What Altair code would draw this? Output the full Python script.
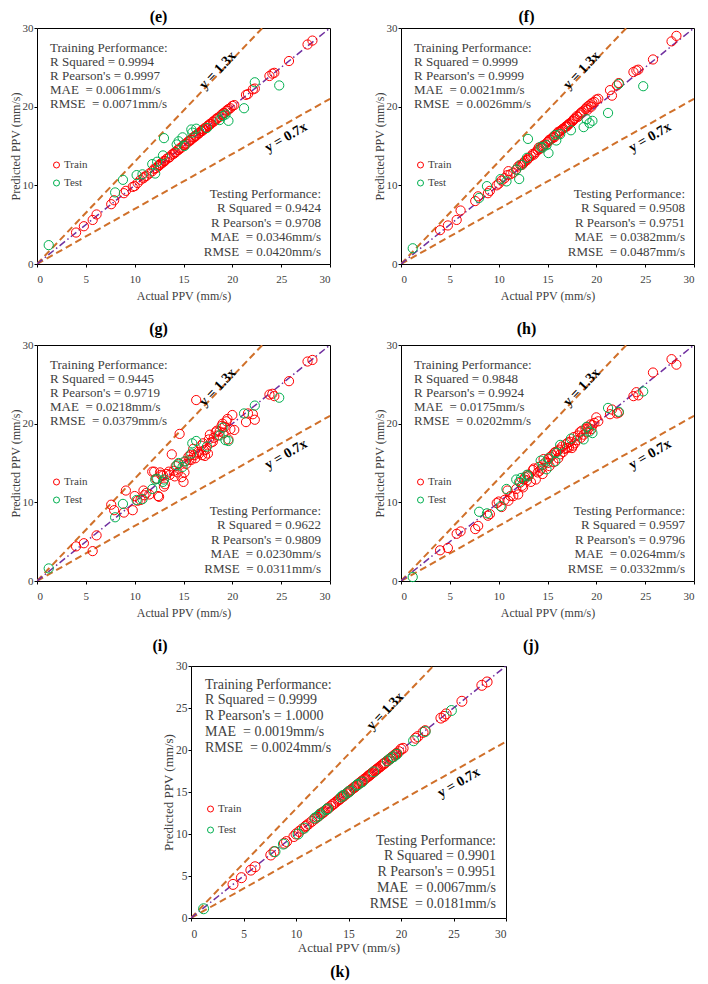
import altair as alt
import pandas as pd

FONT = "Liberation Serif"
RED = "#FF0000"
GREEN = "#00B050"
ORANGE = "#D0702A"
PURPLE = "#7030A0"
GRAY = "#404040"

# ---------------- data ----------------
train_actual = [
    4.0, 4.8, 5.7, 6.1, 7.6, 7.9, 8.9, 9.1, 9.8, 10.0,
    10.3, 10.6, 10.9, 11.0, 11.2, 11.5, 11.8, 12.0, 12.2, 12.4,
    12.5, 12.6, 12.7, 12.9, 13.0, 13.1, 13.3, 13.5, 13.6, 13.8,
    14.0, 14.1, 14.2, 14.4, 14.5, 14.6, 14.8, 15.0, 15.1, 15.2,
    15.3, 15.5, 15.6, 15.7, 15.8, 16.0, 16.1, 16.2, 16.3, 16.5,
    16.6, 16.8, 16.9, 17.0, 17.1, 17.2, 17.3, 17.5, 17.6, 17.7,
    17.8, 18.0, 18.1, 18.3, 18.4, 18.5, 18.7, 18.9, 19.0, 19.1,
    19.2, 19.4, 19.5, 19.6, 19.8, 20.0, 20.2, 21.4, 21.6, 22.1,
    22.3, 23.8, 24.1, 24.3, 25.8, 27.7, 28.2]

test_actual = [1.2, 8.0, 8.8, 10.2, 10.8, 11.8, 12.1, 12.3, 12.9, 13.0,
               14.3, 14.5, 14.9, 15.1, 15.8, 15.9, 16.3, 17.4, 18.7, 19.0,
               19.3, 19.6, 21.2, 22.3, 24.8]

pred_train_e = [
    4.0, 4.8, 5.6, 6.3, 7.6, 8.1, 9.0, 9.3, 9.8, 9.9,
    10.3, 10.7, 10.9, 11.1, 11.2, 11.5, 11.8, 12.1, 12.2, 12.4,
    12.6, 12.6, 12.8, 12.9, 13.1, 13.1, 13.4, 13.5, 13.6, 13.9,
    14.0, 14.2, 14.2, 14.5, 14.5, 14.7, 14.8, 15.1, 15.1, 15.3,
    15.3, 15.6, 15.6, 15.8, 15.8, 16.1, 16.1, 16.3, 16.3, 16.6,
    16.6, 16.9, 16.9, 17.1, 17.1, 17.3, 17.3, 17.6, 17.6, 17.8,
    17.8, 18.1, 18.1, 18.4, 18.4, 18.6, 18.7, 19.0, 19.0, 19.2,
    19.2, 19.5, 19.5, 19.7, 19.8, 20.1, 20.2, 21.5, 21.6, 22.2,
    22.3, 23.9, 24.2, 24.3, 25.8, 27.9, 28.4]
pred_test_e = [2.4, 9.1, 10.7, 11.3, 11.4, 12.7, 11.5, 13.0, 13.8, 16.0,
               15.2, 15.6, 16.1, 15.0, 17.1, 16.7, 17.2, 17.3, 18.3, 18.8,
               19.0, 18.2, 19.8, 23.1, 22.7]

pred_train_f = [
    4.3, 4.9, 5.6, 6.8, 8.0, 8.6, 9.0, 9.3, 10.0, 10.2,
    10.6, 10.9, 11.3, 11.8, 11.4, 11.6, 12.0, 12.4, 12.6, 12.6,
    12.8, 12.9, 13.1, 13.2, 13.4, 13.5, 13.7, 14.0, 13.9, 14.2,
    14.5, 14.8, 14.6, 14.8, 15.0, 15.1, 15.2, 15.5, 15.6, 15.8,
    15.8, 16.0, 16.2, 16.1, 16.4, 16.6, 16.8, 16.6, 16.9, 17.1,
    17.2, 17.4, 17.5, 17.5, 17.7, 17.8, 17.9, 18.1, 18.2, 18.4,
    18.5, 18.8, 18.7, 19.0, 19.2, 19.3, 19.5, 19.7, 19.9, 19.6,
    20.1, 20.3, 20.0, 20.5, 20.6, 20.9, 21.0, 22.1, 21.4, 22.7,
    23.0, 24.4, 24.6, 24.7, 26.0, 28.3, 29.0]
pred_test_f = [2.0, 8.4, 9.9, 10.8, 10.5, 12.0, 10.8, 12.6, 13.5, 15.9,
               14.9, 14.8, 15.1, 14.1, 16.4, 15.7, 16.5, 17.0, 17.4, 18.4,
               17.9, 18.2, 19.2, 22.9, 22.6]

pred_train_g = [
    4.4, 4.8, 3.8, 5.8, 9.7, 9.0, 8.7, 11.5, 9.0, 10.8,
    10.2, 10.3, 11.5, 10.9, 11.2, 11.0, 13.9, 13.9, 13.0, 10.8,
    10.7, 13.8, 13.5, 13.4, 12.0, 12.3, 13.6, 13.9, 13.5, 16.1,
    14.0, 13.3, 14.6, 13.8, 14.9, 18.7, 13.2, 12.6, 13.8, 15.2,
    14.9, 15.8, 15.4, 16.0, 15.4, 16.8, 16.0, 15.6, 23.0, 16.4,
    16.2, 17.2, 16.0, 17.5, 16.6, 15.9, 16.7, 16.2, 18.0, 18.6,
    17.6, 17.7, 18.2, 18.9, 19.1, 18.5, 19.0, 19.7, 20.0, 18.8,
    19.6, 20.3, 20.6, 18.0, 19.3, 21.1, 19.2, 20.2, 21.3, 21.2,
    20.5, 23.7, 23.8, 23.5, 25.4, 27.9, 28.1]
pred_test_g = [1.6, 8.1, 9.8, 10.3, 10.4, 11.7, 12.9, 13.0, 12.6, 12.9,
               14.7, 15.0, 14.5, 15.2, 16.2, 17.5, 17.8, 17.1, 18.5, 19.5,
               17.9, 17.8, 21.3, 22.3, 23.3]

pred_train_h = [
    3.9, 4.2, 6.0, 6.3, 6.6, 7.0, 8.3, 8.5, 9.9, 10.1,
    9.4, 10.3, 11.5, 10.2, 10.8, 10.8, 11.7, 11.0, 12.5, 12.1,
    11.9, 12.9, 13.2, 12.8, 13.5, 13.4, 12.6, 14.1, 14.3, 12.9,
    13.8, 14.5, 14.0, 14.3, 13.6, 15.5, 15.1, 15.0, 15.5, 14.6,
    15.8, 16.0, 15.1, 16.3, 16.4, 16.5, 15.6, 16.7, 16.1, 17.1,
    16.4, 16.8, 17.4, 16.9, 17.6, 17.0, 17.7, 16.9, 17.2, 18.3,
    17.5, 17.9, 18.5, 18.9, 18.2, 19.1, 18.6, 19.3, 18.9, 19.6,
    19.4, 19.9, 19.3, 19.8, 20.1, 20.8, 20.3, 21.2, 21.8, 21.3,
    21.4, 23.5, 24.0, 23.6, 26.5, 28.2, 27.5]
pred_test_h = [0.5, 8.8, 8.6, 9.5, 11.7, 12.9, 12.6, 13.1, 13.5, 13.3,
               15.3, 14.8, 14.2, 15.6, 15.2, 16.3, 17.3, 18.1, 18.0, 19.6,
               19.0, 18.8, 22.0, 21.5, 24.1]

pred_train_k = [
    4.0, 4.8, 5.7, 6.1, 7.5, 7.9, 8.9, 9.1, 9.7, 10.0,
    10.3, 10.6, 10.9, 11.0, 11.2, 11.5, 11.8, 12.0, 12.2, 12.4,
    12.5, 12.6, 12.7, 12.9, 13.0, 13.1, 13.3, 13.5, 13.6, 13.8,
    14.0, 14.1, 14.2, 14.4, 14.5, 14.6, 14.8, 15.0, 15.1, 15.2,
    15.3, 15.5, 15.6, 15.7, 15.8, 16.0, 16.1, 16.2, 16.3, 16.5,
    16.6, 16.8, 16.9, 17.0, 17.1, 17.2, 17.3, 17.5, 17.6, 17.7,
    17.8, 18.0, 18.1, 18.3, 18.4, 18.5, 18.7, 18.9, 19.0, 19.1,
    19.2, 19.4, 19.5, 19.6, 19.8, 20.1, 20.2, 21.4, 21.6, 22.1,
    22.3, 23.8, 24.0, 24.3, 25.8, 27.7, 28.1]
pred_test_k = [1.1, 7.9, 8.8, 10.0, 10.7, 11.9, 12.1, 12.4, 12.9, 13.0,
               14.4, 14.6, 14.9, 15.1, 15.8, 15.9, 16.2, 17.4, 18.7, 19.0,
               19.2, 19.5, 21.1, 22.2, 24.7]

metrics_train = {
    "e": ["0.9994", "0.9997", "0.0061", "0.0071"],
    "f": ["0.9999", "0.9999", "0.0021", "0.0026"],
    "g": ["0.9445", "0.9719", "0.0218", "0.0379"],
    "h": ["0.9848", "0.9924", "0.0175", "0.0202"],
    "k": ["0.9999", "1.0000", "0.0019", "0.0024"],
}
metrics_test = {
    "e": ["0.9424", "0.9708", "0.0346", "0.0420"],
    "f": ["0.9508", "0.9751", "0.0382", "0.0487"],
    "g": ["0.9622", "0.9809", "0.0230", "0.0311"],
    "h": ["0.9597", "0.9796", "0.0264", "0.0332"],
    "k": ["0.9901", "0.9951", "0.0067", "0.0181"],
}
pred_train = {"e": pred_train_e, "f": pred_train_f, "g": pred_train_g, "h": pred_train_h, "k": pred_train_k}
pred_test = {"e": pred_test_e, "f": pred_test_f, "g": pred_test_g, "h": pred_test_h, "k": pred_test_k}

tick_values = [0, 5, 10, 15, 20, 25, 30]
ref_x = [0, 30]
ref_y_13 = [0, 39]
ref_y_07 = [0, 21]
ref_y_10 = [0, 30]

ONE = pd.DataFrame({"a": [0]})


def block(title, vals):
    return [title,
            "R Squared = " + vals[0],
            "R Pearson's = " + vals[1],
            "MAE \u00a0= " + vals[2] + "mm/s",
            "RMSE \u00a0= " + vals[3] + "mm/s"]


def make_panel(key, w, h, big=False, title=None, title_offset=5, title_dx=-21, captions=()):
    fs = 14 if big else 13
    lh_tr = 15.8 if big else 14
    lh_te = 15.8 if big else 14.6
    tr_top = 11.5 if big else 14
    te_top = 167.5 if big else 159.5
    te_right = w - 10 if big else w - 9
    lab_fs = 11.5 if big else 11
    tit_fs = 13 if big else 12

    pts = pd.DataFrame({
        "actual": train_actual + test_actual,
        "predicted": pred_train[key] + pred_test[key],
        "set": ["Train"] * len(train_actual) + ["Test"] * len(test_actual),
    })
    orange = pd.DataFrame({"actual": ref_x + ref_x, "predicted": ref_y_13 + ref_y_07,
                           "which": ["1.3x", "1.3x", "0.7x", "0.7x"]})
    purple = pd.DataFrame({"actual": ref_x, "predicted": ref_y_10})

    xs = alt.Scale(domain=[0, 30], nice=False, zero=False)
    ys = alt.Scale(domain=[0, 30], nice=False, zero=False)
    xax = alt.Axis(values=tick_values, grid=False, domain=False, tickSize=3, tickColor="#000",
                   labelFont=FONT, labelFontSize=lab_fs, labelColor=GRAY,
                   labelPadding=7 if big else 6.5,
                   titleFont=FONT, titleFontSize=tit_fs, titleFontWeight="normal", titleColor=GRAY,
                   titlePadding=1.5 if big else 5.5)
    yax = alt.Axis(values=tick_values, grid=False, domain=False, tickSize=3, tickColor="#000",
                   labelFont=FONT, labelFontSize=lab_fs, labelColor=GRAY, labelPadding=1,
                   titleFont=FONT, titleFontSize=tit_fs, titleFontWeight="normal", titleColor=GRAY,
                   titlePadding=0)
    X = alt.X("actual:Q", scale=xs, axis=xax, title="Actual PPV (mm/s)")
    Y = alt.Y("predicted:Q", scale=ys, axis=yax, title="Predicted PPV (mm/s)")

    l_orange = alt.Chart(orange).mark_line(clip=True, color=ORANGE, strokeWidth=2,
                                           strokeDash=[7, 4]).encode(x=X, y=Y, detail="which:N")
    l_purple = alt.Chart(purple).mark_line(clip=True, color=PURPLE, strokeWidth=1.5,
                                           strokeDash=[7, 3, 1.5, 3]).encode(x=X, y=Y)
    points = alt.Chart(pts).mark_point(shape="circle", filled=False, size=100 if big else 85,
                                       strokeWidth=1, opacity=1).encode(
        x=X, y=Y,
        color=alt.Color("set:N", scale=alt.Scale(domain=["Train", "Test"], range=[RED, GREEN]),
                        legend=alt.Legend(title=None, orient="none", legendX=14,
                                          legendY=137.5 if big else 131.5,
                                          symbolType="circle", symbolSize=36, symbolStrokeWidth=1,
                                          labelFont=FONT, labelFontSize=11, labelColor=GRAY,
                                          labelOffset=2, rowPadding=9 if big else 6, padding=0)))
    t_train = alt.Chart(ONE).mark_text(text=block("Training Performance:", metrics_train[key]),
                                       align="left", baseline="top", font=FONT, fontSize=fs,
                                       lineHeight=lh_tr, color=GRAY).encode(
        x=alt.value(14 if big else 13), y=alt.value(tr_top))
    t_test = alt.Chart(ONE).mark_text(text=block("Testing Performance:", metrics_test[key]),
                                      align="right", baseline="top", font=FONT, fontSize=fs,
                                      lineHeight=lh_te, color=GRAY).encode(
        x=alt.value(te_right), y=alt.value(te_top))
    lab13 = alt.Chart(ONE).mark_text(text="y = 1.3x", angle=314, font=FONT, fontSize=14,
                                     fontWeight="bold", color="#000").encode(
        x=alt.datum(18.5), y=alt.datum(24.6))
    lab07 = alt.Chart(ONE).mark_text(text="y = 0.7x", angle=330, font=FONT, fontSize=14,
                                     fontWeight="bold", color="#000").encode(
        x=alt.datum(25.5), y=alt.datum(16.1))
    layers = [l_orange, l_purple, points, t_train, t_test, lab13, lab07]
    for txt, cx, cy in captions:
        layers.append(alt.Chart(ONE).mark_text(text=txt, font=FONT, fontSize=16, fontWeight="bold",
                                               color="#000").encode(x=alt.value(cx), y=alt.value(cy)))
    ch = alt.layer(*layers).properties(width=w, height=h)
    if title is not None:
        ch = ch.properties(title=alt.TitleParams(title, font=FONT, fontSize=16, fontWeight="bold",
                                                 color="#000", anchor="middle", frame="group",
                                                 dx=title_dx, offset=title_offset))
    return ch


W, H = 293, 236
p_e = make_panel("e", W, H, title="(e)", title_offset=-3, title_dx=-25)
p_f = make_panel("f", W, H, title="(f)", title_offset=-3, title_dx=-21)
p_g = make_panel("g", W, H, title="(g)", title_offset=2, title_dx=-25)
p_h = make_panel("h", W, H, title="(h)", title_offset=2, title_dx=-21)
p_k = make_panel("k", 315, 252, big=True,
                 captions=[("(i)", -31, -20), ("(j)", 340, -20), ("(k)", 149, 306)])

spacer = alt.Chart(ONE).mark_point(opacity=0, size=1).encode(
    x=alt.value(0), y=alt.value(0)).properties(
    width=103, height=10, view=alt.ViewBackground(stroke="transparent"))

row1 = alt.hconcat(p_e, p_f, spacing=41).resolve_scale(color="independent").resolve_legend(color="independent")
row2 = alt.hconcat(p_g, p_h, spacing=41).resolve_scale(color="independent").resolve_legend(color="independent")
row3 = alt.hconcat(spacer, p_k, spacing=10).resolve_scale(color="independent").resolve_legend(color="independent")

chart = alt.vconcat(row1, row2, row3, spacing=18).resolve_scale(
    color="independent").resolve_legend(color="independent").properties(
    padding=0, background="white").configure_view(stroke="#000", strokeWidth=1)

chart.save("out.html", embed_options={"renderer": "svg", "actions": False})
